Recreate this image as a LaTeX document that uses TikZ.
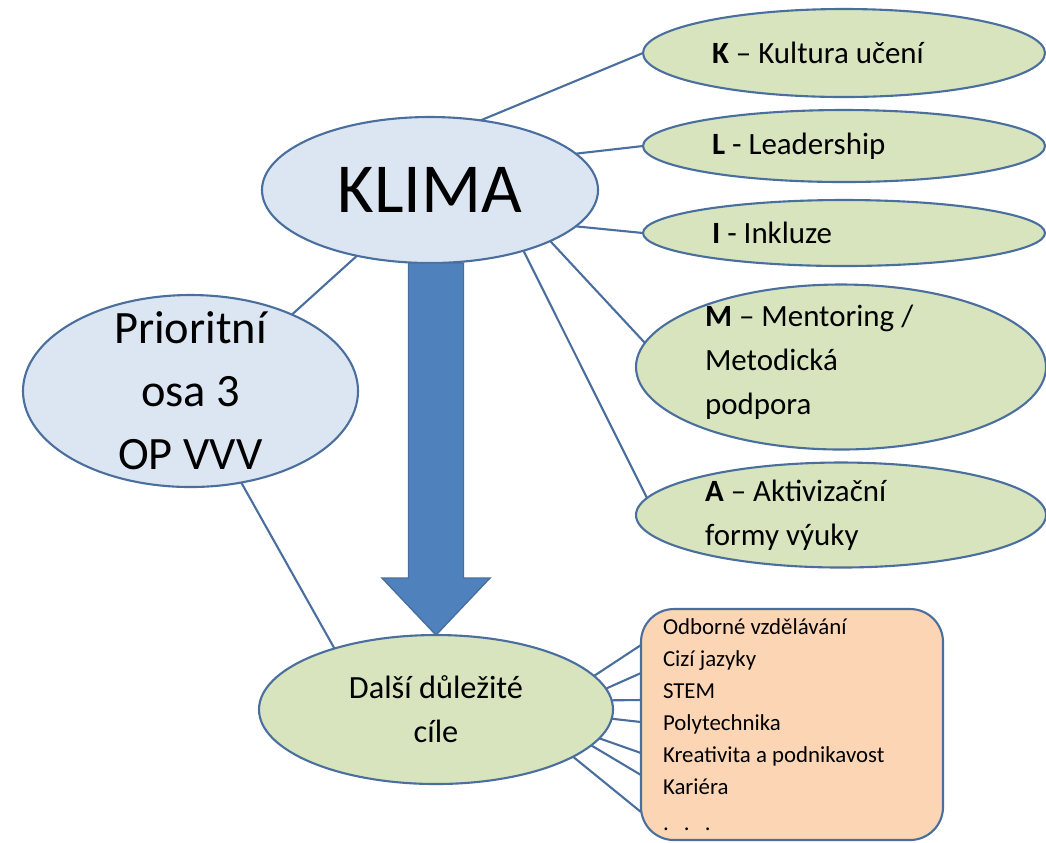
\documentclass[tikz,border=0pt]{standalone}
\usepackage{fontspec}
\setmainfont{Carlito}
\usetikzlibrary{shapes.geometric}
\definecolor{edgeblue}{HTML}{4A6F9E}
\definecolor{bubbleblue}{HTML}{DCE6F2}
\definecolor{bubblegreen}{HTML}{D7E4BD}
\definecolor{boxorange}{HTML}{FCD5B5}
\definecolor{arrowblue}{HTML}{4F81BD}

\begin{document}
\begin{tikzpicture}
\tikzstyle{every node}+=[inner sep=0pt, outer sep=0pt]
\tikzstyle{bubble}=[ellipse, draw=edgeblue, line width=0.6pt]
\tikzstyle{blue bubble}=[bubble, fill=bubbleblue]
\tikzstyle{green bubble}=[bubble, fill=bubblegreen]
\tikzstyle{link}=[draw=edgeblue, line width=0.6pt]
\tikzstyle{item}=[text width=2.64cm, align=flush left, font=\fontsize{8.8}{12.5}\selectfont]
\tikzstyle{big arrow}=[fill=arrowblue, draw=edgeblue, line width=0.4pt]
\useasboundingbox (0,0) rectangle (10.46,-8.42);
% main ellipses
\node [blue bubble, minimum width=3.36cm, minimum height=1.46cm,
  label={[font=\fontsize{20}{24}\selectfont]center:KLIMA}] (klima) at (4.30,-1.90) {};
\node [blue bubble, minimum width=3.35cm, minimum height=1.92cm,
  label={[align=center, font=\fontsize{13.2}{17.9}\selectfont]center:Prioritní\\osa 3\\OP VVV}] (osa) at (1.905,-3.91) {};
\node [green bubble, minimum width=3.54cm, minimum height=1.49cm,
  label={[align=center, font=\fontsize{9.2}{12.5}\selectfont]center:Další důležité\\cíle}] (dalsi) at (4.36,-7.095) {};
% KLIMA letters
\node [green bubble, minimum width=4.02cm, minimum height=0.88cm,
  label={[item]center:\textbf{K} – Kultura učení}] (kultura) at (8.44,-0.53) {};
\node [green bubble, minimum width=4.02cm, minimum height=0.72cm,
  label={[item]center:\textbf{L} - Leadership}] (leadership) at (8.44,-1.46) {};
\node [green bubble, minimum width=4.02cm, minimum height=0.66cm,
  label={[item]center:\textbf{I} - Inkluze}] (inkluze) at (8.44,-2.33) {};
\node [green bubble, minimum width=4.10cm, minimum height=1.65cm,
  label={[item, text width=2.72cm, yshift=0.05cm]center:\textbf{M} – Mentoring /\\Metodická\\podpora}] (mentoring) at (8.41,-3.67) {};
\node [green bubble, minimum width=4.10cm, minimum height=1.05cm,
  label={[item, text width=2.72cm]center:\textbf{A} – Aktivizační\\formy výuky}] (aktivizace) at (8.41,-5.15) {};
% other goals
\node [draw=edgeblue, fill=boxorange, line width=0.6pt, rounded corners=0.33cm,
  minimum width=3.02cm, minimum height=2.31cm, text width=2.58cm, inner xsep=0.22cm,
  align=flush left, font=\fontsize{6.5}{9.1}\selectfont] (goals) at (7.92,-7.245)
  {Odborné vzdělávání\\Cizí jazyky\\STEM\\Polytechnika\\Kreativita a podnikavost\\Kariéra\\[1pt].\hspace{4.3pt}.\hspace{4.3pt}.};
% connectors
\draw [link] (klima.54) -- (kultura.west);
\draw [link] (klima.14) -- (leadership.west);
\draw [link] (klima.-14) -- (inkluze.west);
\draw [link] (klima.-23) -- (mentoring.173);
\draw [link] (klima.-33) -- (aktivizace.175);
\draw [link] (klima.222) -- (osa.37);
\draw [link] (osa.299) -- (dalsi.149);
\foreach \a/\dy in {12/0.795, 7/0.515, 3/0.245, -3/0.025, -10/-0.285, -13/-0.505, -19/-0.875}
  \draw [link] (dalsi.\a) -- ([yshift=\dy cm]goals.west);
% block arrow
\coordinate (tip) at (dalsi.north);
\coordinate (tail) at (dalsi.north |- klima.south);
\draw [big arrow] (tip) -- ([shift={(0.54,0.57)}]tip) -- ([shift={(0.275,0.57)}]tip)
  -- ([xshift=0.275cm]tail) -- ([xshift=-0.275cm]tail)
  -- ([shift={(-0.275,0.57)}]tip) -- ([shift={(-0.54,0.57)}]tip) -- cycle;
\end{tikzpicture}
\end{document}
